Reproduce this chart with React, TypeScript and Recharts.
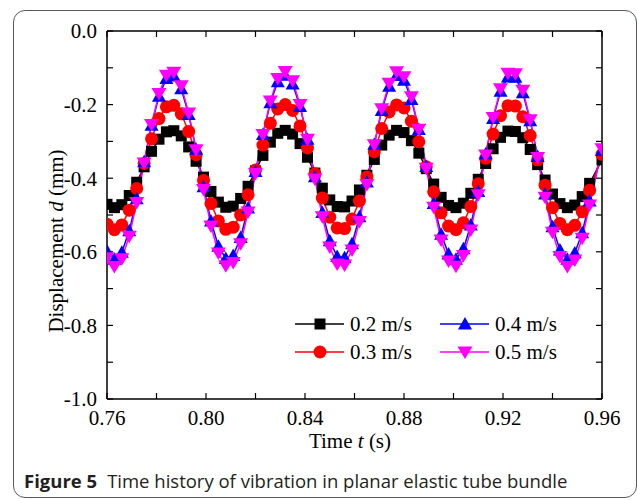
import React from 'react';
import { LineChart, Line, XAxis, YAxis, Legend } from 'recharts';

// time (s)
const times = [
  0.76, 0.763, 0.766, 0.769, 0.772, 0.775, 0.778, 0.781, 0.784, 0.787,
  0.79, 0.793, 0.796, 0.799, 0.802, 0.805, 0.808, 0.811, 0.814, 0.817,
  0.82, 0.823, 0.826, 0.829, 0.832, 0.835, 0.838, 0.841, 0.844, 0.847,
  0.85, 0.853, 0.856, 0.859, 0.862, 0.865, 0.868, 0.871, 0.874, 0.877,
  0.88, 0.883, 0.886, 0.889, 0.892, 0.895, 0.898, 0.901, 0.904, 0.907,
  0.91, 0.913, 0.916, 0.919, 0.922, 0.925, 0.928, 0.931, 0.934, 0.937,
  0.94, 0.943, 0.946, 0.949, 0.952, 0.955, 0.96,
];

// displacement (mm) for each flow velocity
const v02 = [
  -0.471, -0.48, -0.472, -0.447, -0.411, -0.369, -0.327, -0.294, -0.274, -0.271,
  -0.285, -0.315, -0.354, -0.397, -0.436, -0.465, -0.479, -0.476, -0.455, -0.422,
  -0.38, -0.338, -0.302, -0.278, -0.27, -0.28, -0.306, -0.343, -0.386, -0.427,
  -0.459, -0.477, -0.478, -0.462, -0.432, -0.392, -0.349, -0.31, -0.283, -0.27,
  -0.276, -0.298, -0.332, -0.374, -0.416, -0.452, -0.474, -0.48, -0.468, -0.441,
  -0.403, -0.36, -0.32, -0.289, -0.272, -0.273, -0.29, -0.322, -0.363, -0.405,
  -0.443, -0.469, -0.48, -0.473, -0.45, -0.414, -0.35,
];
const v03 = [
  -0.525, -0.54, -0.527, -0.487, -0.428, -0.36, -0.293, -0.238, -0.206, -0.202,
  -0.225, -0.273, -0.336, -0.406, -0.469, -0.516, -0.539, -0.533, -0.5, -0.445,
  -0.378, -0.31, -0.251, -0.212, -0.2, -0.216, -0.258, -0.318, -0.388, -0.454,
  -0.506, -0.535, -0.537, -0.511, -0.462, -0.397, -0.328, -0.265, -0.22, -0.201,
  -0.209, -0.245, -0.301, -0.369, -0.437, -0.494, -0.53, -0.54, -0.521, -0.477,
  -0.415, -0.346, -0.28, -0.23, -0.203, -0.204, -0.233, -0.284, -0.35, -0.419,
  -0.48, -0.523, -0.54, -0.528, -0.491, -0.433, -0.335,
];
const v04 = [
  -0.598, -0.62, -0.601, -0.543, -0.456, -0.355, -0.256, -0.177, -0.129, -0.122,
  -0.157, -0.227, -0.321, -0.423, -0.516, -0.585, -0.618, -0.61, -0.561, -0.481,
  -0.382, -0.281, -0.195, -0.138, -0.12, -0.144, -0.205, -0.294, -0.396, -0.493,
  -0.57, -0.613, -0.616, -0.578, -0.505, -0.41, -0.308, -0.216, -0.15, -0.121,
  -0.134, -0.186, -0.268, -0.368, -0.469, -0.552, -0.606, -0.62, -0.592, -0.527,
  -0.436, -0.334, -0.238, -0.164, -0.125, -0.126, -0.168, -0.244, -0.341, -0.443,
  -0.532, -0.595, -0.62, -0.603, -0.548, -0.462, -0.325,
];
const v05 = [
  -0.616, -0.64, -0.619, -0.558, -0.466, -0.359, -0.254, -0.17, -0.12, -0.112,
  -0.149, -0.223, -0.323, -0.431, -0.53, -0.603, -0.638, -0.629, -0.578, -0.492,
  -0.387, -0.281, -0.19, -0.129, -0.11, -0.135, -0.2, -0.294, -0.402, -0.505,
  -0.587, -0.633, -0.636, -0.595, -0.518, -0.417, -0.309, -0.211, -0.142, -0.111,
  -0.124, -0.179, -0.267, -0.373, -0.479, -0.568, -0.625, -0.639, -0.61, -0.541,
  -0.445, -0.337, -0.235, -0.157, -0.115, -0.116, -0.161, -0.241, -0.344, -0.452,
  -0.547, -0.613, -0.64, -0.622, -0.563, -0.473, -0.32,
];

const xTicks = [0.76, 0.78, 0.8, 0.82, 0.84, 0.86, 0.88, 0.9, 0.92, 0.94, 0.96];
const yTicks = [-1, -0.9, -0.8, -0.7, -0.6, -0.5, -0.4, -0.3, -0.2, -0.1, 0];

const data = times.map((t, i) => ({ t, v02: v02[i], v03: v03[i], v04: v04[i], v05: v05[i] }));

const SERIF = '"Liberation Serif", "Times New Roman", serif';
const FS = 21;
const tickStyle = { fontSize: FS, fill: '#000', fontFamily: SERIF };

const square = (cx: number, cy: number, key?: any) => (
  <rect key={key} x={cx - 5.5} y={cy - 5.5} width={11} height={11} fill="#000" />
);
const circle = (cx: number, cy: number, key?: any) => (
  <circle key={key} cx={cx} cy={cy} r={6.5} fill="#ff0000" />
);
const triUp = (cx: number, cy: number, key?: any) => (
  <path key={key} d={`M${cx},${cy - 7}L${cx + 7},${cy + 5.5}L${cx - 7},${cy + 5.5}Z`} fill="#0000ff" />
);
const triDown = (cx: number, cy: number, key?: any) => (
  <path key={key} d={`M${cx},${cy + 7}L${cx + 7.5},${cy - 5.5}L${cx - 7.5},${cy - 5.5}Z`} fill="#ff00ff" />
);

const series = [
  { key: 'v02', name: '0.2 m/s', color: '#000000', marker: square },
  { key: 'v03', name: '0.3 m/s', color: '#ff0000', marker: circle },
  { key: 'v04', name: '0.4 m/s', color: '#0000ff', marker: triUp },
  { key: 'v05', name: '0.5 m/s', color: '#ff00ff', marker: triDown },
];

function LegendBox() {
  const pos = [
    { x: 5, y: 19 },
    { x: 5, y: 47 },
    { x: 150, y: 19 },
    { x: 150, y: 47 },
  ];
  return (
    <svg width={300} height={66}>
      {series.map((s, i) => {
        const p = pos[i];
        return (
          <g key={s.key}>
            <line x1={p.x} x2={p.x + 49} y1={p.y} y2={p.y} stroke={s.color} strokeWidth={1.5} />
            {s.marker(p.x + 25, p.y)}
            <text x={p.x + 55} y={p.y} dy="0.35em" fontSize={FS} fontFamily={SERIF} fill="#000">
              {s.name}
            </text>
          </g>
        );
      })}
    </svg>
  );
}

export default function App() {
  return (
    <div style={{ position: 'absolute', left: 0, top: 0, width: 637, height: 500, background: '#fff' }}>
      <div
        style={{
          position: 'absolute',
          left: 13,
          top: 10,
          width: 624,
          height: 488,
          border: '1px solid #58595b',
          borderRadius: 12,
          boxSizing: 'border-box',
        }}
      />
      <div style={{ position: 'absolute', left: 0, top: 0 }}>
        <LineChart width={637} height={460} data={data} margin={{ top: 1, right: 0, bottom: 0, left: 0 }}>
          <XAxis
            dataKey="t"
            type="number"
            domain={[0.76, 0.96]}
            ticks={xTicks}
            interval={0}
            allowDataOverflow
            height={61}
            tickSize={-6}
            tickMargin={17}
            tick={tickStyle}
            tickFormatter={(v: number, i: number) => (i % 2 === 0 ? v.toFixed(2) : '')}
            axisLine={{ stroke: '#000', strokeWidth: 1.5 }}
            tickLine={{ stroke: '#000', strokeWidth: 1.2 }}
            label={{
              content: () => (
                <text x={350} y={448} textAnchor="middle" fontSize={FS} fontFamily={SERIF} fill="#000">
                  Time <tspan fontStyle="italic">t</tspan> (s)
                </text>
              ),
            }}
          />
          <XAxis
            xAxisId="top"
            orientation="top"
            dataKey="t"
            type="number"
            domain={[0.76, 0.96]}
            ticks={xTicks}
            interval={0}
            allowDataOverflow
            height={30}
            tickSize={-6}
            tickFormatter={() => ''}
            axisLine={{ stroke: '#000', strokeWidth: 1.5 }}
            tickLine={{ stroke: '#000', strokeWidth: 1.2 }}
          />
          <YAxis
            type="number"
            domain={[-1, 0]}
            ticks={yTicks}
            interval={0}
            allowDataOverflow
            width={107}
            tickSize={-6}
            tickMargin={16}
            tick={tickStyle}
            tickFormatter={(v: number, i: number) => (i % 2 === 0 ? v.toFixed(1) : '')}
            axisLine={{ stroke: '#000', strokeWidth: 1.5 }}
            tickLine={{ stroke: '#000', strokeWidth: 1.2 }}
            label={{
              content: () => (
                <text
                  x={56}
                  y={241}
                  transform="rotate(-90 56 241)"
                  textAnchor="middle"
                  dy="0.35em"
                  fontSize={FS}
                  fontFamily={SERIF}
                  fill="#000"
                >
                  Displacement <tspan fontStyle="italic">d</tspan> (mm)
                </text>
              ),
            }}
          />
          <YAxis
            yAxisId="right"
            orientation="right"
            type="number"
            domain={[-1, 0]}
            ticks={yTicks}
            interval={0}
            allowDataOverflow
            width={35}
            tickSize={-6}
            tickFormatter={() => ''}
            axisLine={{ stroke: '#000', strokeWidth: 1.5 }}
            tickLine={{ stroke: '#000', strokeWidth: 1.2 }}
          />
          <Legend
            layout="vertical"
            align="center"
            verticalAlign="middle"
            content={() => <LegendBox />}
            wrapperStyle={{ left: 290, top: 305, width: 300, height: 66 }}
          />
          {series.map((s) => (
            <Line
              key={s.key}
              type="linear"
              dataKey={s.key}
              name={s.name}
              stroke={s.color}
              strokeWidth={1.5}
              dot={(p: any) => s.marker(p.cx, p.cy, p.index)}
              activeDot={false}
              isAnimationActive={false}
            />
          ))}
        </LineChart>
      </div>
      <div
        style={{
          position: 'absolute',
          left: 24,
          top: 468,
          fontFamily: '"Open Sans", "Noto Sans", sans-serif',
          fontSize: 18.5,
          color: '#231f20',
          whiteSpace: 'nowrap',
        }}
      >
        <span style={{ fontWeight: 700 }}>Figure 5</span>
        <span style={{ marginLeft: 10 }}>Time history of vibration in planar elastic tube bundle</span>
      </div>
    </div>
  );
}
